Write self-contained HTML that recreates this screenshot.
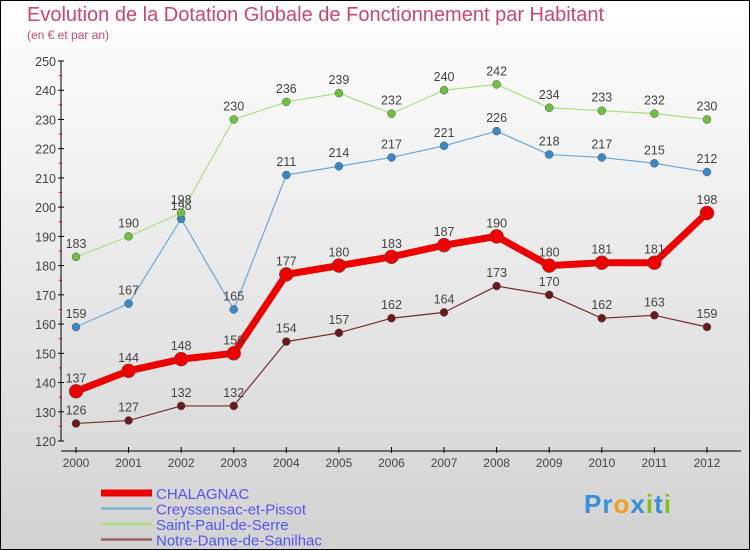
<!DOCTYPE html>
<html><head><meta charset="utf-8"><style>
body{margin:0}
#c{position:relative;width:748px;height:548px;border:1px solid #000;background:linear-gradient(#ffffff,#d2d2d2);font-family:"Liberation Sans",sans-serif;overflow:hidden}
.t{position:absolute;white-space:nowrap}
</style></head><body>
<div id="c">
<div class="t" style="left:26px;top:3px;font-size:20px;color:#c84870">Evolution de la Dotation Globale de Fonctionnement par Habitant</div>
<div class="t" style="left:26px;top:27px;font-size:12px;color:#c84870">(en € et par an)</div>
<svg id="s" width="748" height="548" style="position:absolute;left:0;top:0"></svg>
<div class="t" style="left:583px;top:488px;font-size:26px;font-weight:bold;letter-spacing:1px"><span style="color:#3a8fd8">Pr</span><span style="color:#f0a020">o</span><span style="color:#3a8fd8">x</span><span style="color:#80c020">i</span><span style="color:#3a8fd8">t</span><span style="color:#80c020">i</span></div>
</div>
<script>
const years=[2000,2001,2002,2003,2004,2005,2006,2007,2008,2009,2010,2011,2012];
const yTicks=[120,130,140,150,160,170,180,190,200,210,220,230,240,250];
const chalagnac=[137,144,148,150,177,180,183,187,190,180,181,181,198];
const creyssensac=[159,167,196,165,211,214,217,221,226,218,217,215,212];
const saintPaul=[183,190,198,230,236,239,232,240,242,234,233,232,230];
const notreDame=[126,127,132,132,154,157,162,164,173,170,162,163,159];
const names=["CHALAGNAC","Creyssensac-et-Pissot","Saint-Paul-de-Serre","Notre-Dame-de-Sanilhac"];
const S=document.getElementById('s'),NS='http://www.w3.org/2000/svg';
const X=i=>75+i*52.58, Y=v=>60+(250-v)*(380/130);
function mk(t,a,txt){const e=document.createElementNS(NS,t);for(const k in a)e.setAttribute(k,a[k]);if(txt!=null)e.textContent=txt;S.appendChild(e);return e;}
let e=mk('line',{x1:60,y1:60,x2:60,y2:440,stroke:'#000'});

e=mk('line',{x1:60,y1:450,x2:740,y2:450,stroke:'#000'});

yTicks.forEach(v=>{const y=Y(v);mk('line',{x1:57,y1:y,x2:63,y2:y,stroke:'#000'});
 if(v<250)mk('line',{x1:58,y1:Y(v+5),x2:61,y2:Y(v+5),stroke:'#e00'});
 e=mk('text',{x:55,y:y+5,'text-anchor':'end','font-size':12.5,fill:'#444'},v);
 });
years.forEach((yr,i)=>{mk('line',{x1:X(i),y1:446,x2:X(i),y2:452,stroke:'#000'});
 e=mk('text',{x:X(i),y:466,'text-anchor':'middle','font-size':12,fill:'#444'},yr);
 });
const series=[[notreDame,'#7a2a2a','#6a1a1a',1.2,4,'notre-dame'],[creyssensac,'#6aa8d8','#3a88c8',1.2,4,'creyssensac'],[saintPaul,'#a8e080','#70c040',1.2,4,'saint-paul'],[chalagnac,'#ee0000','#ee0000',7,7,'chalagnac']];
series.forEach(([d,lc,pc,w,r,n])=>{
 e=mk('polyline',{points:d.map((v,i)=>X(i)+','+Y(v)).join(' '),fill:'none',stroke:lc,'stroke-width':w,'stroke-linejoin':'round'});
 
 d.forEach((v,i)=>{e=mk('circle',{cx:X(i),cy:Y(v),r:r,fill:pc,stroke:'#555','stroke-width':0.5});
  
  e=mk('text',{x:X(i),y:Y(v)-9,'text-anchor':'middle','font-size':12.5,fill:'#444'},v);
  });
});
const lc=['#ee0000','#7fb0d8','#a8e080','#9a6060'],lw=[7,2.5,2.5,2.5];
names.forEach((nm,i)=>{const y=492+i*15.5;
 mk('line',{x1:100,y1:y,x2:151,y2:y,stroke:lc[i],'stroke-width':lw[i]});
 e=mk('text',{x:155,y:y+6,'font-size':15,fill:'#5555ee'},nm);
 });
</script>
</body></html>
